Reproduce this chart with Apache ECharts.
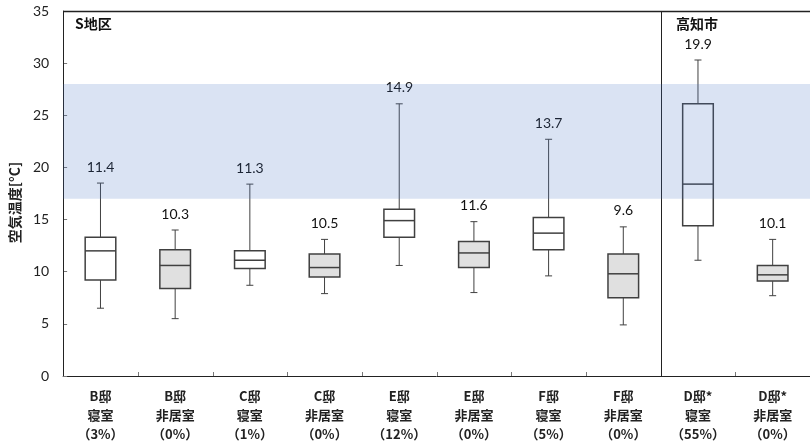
<!DOCTYPE html>
<html>
<head>
<meta charset="utf-8">
<script src="https://cdn.jsdelivr.net/npm/echarts@6/dist/echarts.min.js"></script>
<style>
  html, body { margin: 0; padding: 0; background: #fff; }
  #chart { width: 810px; height: 444px; }
</style>
</head>
<body>
<div id="chart"></div>
<script>
// Room categories (house / room / share of time in the comfort band)
const houses = ['B邸', 'B邸', 'C邸', 'C邸', 'E邸', 'E邸', 'F邸', 'F邸', 'D邸*', 'D邸*'];
const rooms = ['寝室', '非居室', '寝室', '非居室', '寝室', '非居室', '寝室', '非居室', '寝室', '非居室'];
const shares = ['3%', '0%', '1%', '0%', '12%', '0%', '5%', '0%', '55%', '0%'];

// Air temperature statistics [°C]
const lows    = [6.5, 5.5, 8.7, 7.9, 10.6, 8.0, 9.6, 4.9, 11.1, 7.7];
const q1s     = [9.2, 8.4, 10.3, 9.5, 13.3, 10.4, 12.1, 7.5, 14.4, 9.1];
const medians = [12.0, 10.6, 11.1, 10.4, 14.9, 11.8, 13.7, 9.8, 18.4, 9.7];
const q3s     = [13.3, 12.1, 12.0, 11.7, 16.0, 12.9, 15.2, 11.7, 26.1, 10.6];
const highs   = [18.5, 14.0, 18.4, 13.1, 26.1, 14.8, 22.7, 14.3, 30.3, 13.1];
const means   = [11.4, 10.3, 11.3, 10.5, 14.9, 11.6, 13.7, 9.6, 19.9, 10.1];

// Comfort range shown as a band
const bandLow = 17;
const bandHigh = 28;

// Y axis ticks
const yMin = 0, yMax = 35, yStep = 5;

// Index of the first Kochi-city category (a divider is drawn before it)
const regionSplit = 8;

const categories = houses.map((h, i) => h + '\n' + rooms[i] + '\n（' + shares[i] + '）');
const boxData = lows.map((v, i) => [i, v, q1s[i], medians[i], q3s[i], highs[i], means[i]]);

const numFont = 'Lato, "Noto Sans CJK JP", sans-serif';
const jpFont = '"Noto Sans CJK JP", sans-serif';
const lineColor = '#404040';
const frameColor = '#222';
const tickColor = '#777';

function renderBox(params, api) {
  const i = api.value(0);
  const pLow = api.coord([i, api.value(1)]);
  const pQ1 = api.coord([i, api.value(2)]);
  const pMed = api.coord([i, api.value(3)]);
  const pQ3 = api.coord([i, api.value(4)]);
  const pHigh = api.coord([i, api.value(5)]);
  const bandW = api.size([1, 0])[0];
  const bw = bandW * 0.41;
  const cw = 7;
  const cx = pMed[0];
  const fill = rooms[i] === '寝室' ? '#ffffff' : '#e0e0e0';
  const thin = { stroke: lineColor, lineWidth: 1 };
  const top = api.coord([i, yMax]);
  const bottom = api.coord([i, yMin]);
  const xLeft = Math.round(cx - bandW / 2) + 0.5;
  const children = [
    { type: 'line', shape: { x1: cx, y1: pHigh[1], x2: cx, y2: pQ3[1] }, style: thin },
    { type: 'line', shape: { x1: cx, y1: pQ1[1], x2: cx, y2: pLow[1] }, style: thin },
    { type: 'line', shape: { x1: cx - cw / 2, y1: pHigh[1], x2: cx + cw / 2, y2: pHigh[1] }, style: thin },
    { type: 'line', shape: { x1: cx - cw / 2, y1: pLow[1], x2: cx + cw / 2, y2: pLow[1] }, style: thin },
    { type: 'rect', shape: { x: cx - bw / 2, y: pQ3[1], width: bw, height: pQ1[1] - pQ3[1] },
      style: { fill: fill, stroke: lineColor, lineWidth: 1.5 } },
    { type: 'line', shape: { x1: cx - bw / 2, y1: pMed[1], x2: cx + bw / 2, y2: pMed[1] },
      style: { stroke: lineColor, lineWidth: 1.5 } },
    { type: 'text', x: cx, y: pHigh[1] - 16,
      style: { text: api.value(6).toFixed(1), fill: '#111', font: '14px ' + numFont,
               align: 'center', verticalAlign: 'middle' } }
  ];
  if (i === 0 || i === regionSplit) {
    // Left frame edge and region divider run the full plot height
    children.push({ type: 'line', shape: { x1: xLeft, y1: top[1], x2: xLeft, y2: bottom[1] },
                    style: { stroke: frameColor, lineWidth: 1 } });
  } else {
    // Small inward tick on the category boundary
    children.push({ type: 'line', shape: { x1: xLeft, y1: bottom[1] - 4, x2: xLeft, y2: bottom[1] },
                    style: { stroke: tickColor, lineWidth: 1 } });
  }
  if (i === 0) {
    // Top frame edge
    const yTop = Math.round(top[1]) + 0.5;
    children.push({ type: 'line', shape: { x1: xLeft, y1: yTop, x2: xLeft + bandW * houses.length, y2: yTop },
                    style: { stroke: frameColor, lineWidth: 1.5 } });
  }
  return { type: 'group', children: children };
}

const chart = echarts.init(document.getElementById('chart'), null, { renderer: 'canvas' });
chart.setOption({
  animation: false,
  grid: { left: 62, top: 11, right: -6, height: 365 },
  xAxis: {
    type: 'category',
    data: categories,
    boundaryGap: true,
    axisLine: { show: true, lineStyle: { color: frameColor, width: 1 } },
    axisTick: { show: false },
    axisLabel: { interval: 0, margin: 11, lineHeight: 19, fontSize: 13, fontWeight: 'bold', color: '#222', fontFamily: jpFont },
    splitLine: { show: false }
  },
  yAxis: {
    type: 'value',
    min: yMin, max: yMax, interval: yStep,
    name: '空気温度[°C]',
    nameLocation: 'middle',
    nameGap: 35,
    nameRotate: 90,
    nameTextStyle: { fontSize: 14, fontWeight: 'bold', color: '#222', fontFamily: jpFont, padding: [0, 18, 0, 0] },
    axisLine: { show: true, onZero: false, lineStyle: { color: frameColor, width: 1 } },
    axisTick: { show: true, inside: true, length: 4, lineStyle: { color: tickColor } },
    axisLabel: { margin: 14, fontSize: 14, color: '#222', fontFamily: numFont },
    splitLine: { show: false }
  },
  graphic: [
    { type: 'text', left: 75, top: 17, style: { text: 'S地区', font: 'bold 14px ' + jpFont, fill: '#111' } },
    { type: 'text', left: 676, top: 17, style: { text: '高知市', font: 'bold 14px ' + jpFont, fill: '#111' } }
  ],
  series: [
    {
      type: 'custom',
      z: 2,
      clip: false,
      renderItem: renderBox,
      encode: { x: 0, y: [1, 2, 3, 4, 5] },
      data: boxData
    },
    {
      type: 'line',
      z: 10,
      data: [],
      silent: true,
      markArea: {
        silent: true,
        z: 10,
        itemStyle: { color: 'rgba(68,114,196,0.2)' },
        data: [[{ yAxis: bandLow }, { yAxis: bandHigh }]]
      }
    }
  ]
});
</script>
</body>
</html>
